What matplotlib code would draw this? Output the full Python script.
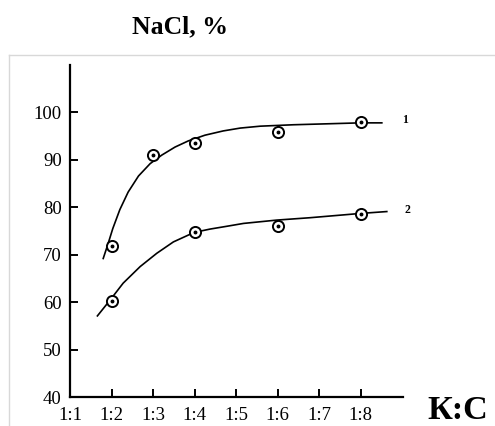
import matplotlib.pyplot as plt
from matplotlib.lines import Line2D

plt.rcParams['font.family'] = ['Liberation Serif', 'DejaVu Serif']

# ratio K:C  (1:n -> n)
ratio = [1, 2, 3, 4, 5, 6, 7, 8]
ratio_labels = ['1:1', '1:2', '1:3', '1:4', '1:5', '1:6', '1:7', '1:8']

# measured points
x1 = [2, 3, 4, 6, 8]
y1 = [71.9, 91.0, 93.5, 95.9, 98.0]
x2 = [2, 4, 6, 8]
y2 = [60.3, 74.7, 76.1, 78.6]

# hand-drawn trend curves
c1x = [1.80, 1.92, 2.03, 2.20, 2.40, 2.65, 2.93, 3.21, 3.53, 3.85, 4.25,
       4.69, 5.10, 5.58, 6.38, 7.19, 7.99, 8.51]
c1y = [69.2, 72.4, 75.5, 79.5, 83.2, 86.6, 89.2, 91.0, 92.7, 94.0, 95.2,
       96.1, 96.7, 97.1, 97.4, 97.6, 97.8, 97.8]
c2x = [1.66, 1.98, 2.28, 2.69, 3.09, 3.49, 3.99, 4.37, 4.78, 5.18, 5.98,
       6.78, 7.59, 7.99, 8.63]
c2y = [57.1, 60.6, 64.0, 67.5, 70.3, 72.7, 74.7, 75.4, 76.0, 76.6, 77.3,
       77.8, 78.4, 78.7, 79.1]

fig = plt.figure(figsize=(4.95, 4.26), dpi=100)
ax = fig.add_axes([70 / 495, 29 / 426, 333 / 495, 332 / 426])

ax.plot(c1x, c1y, color='black', lw=1.2)
ax.plot(c2x, c2y, color='black', lw=1.2)
for xs, ys in [(x1, y1), (x2, y2)]:
    ax.plot(xs, ys, 'o', ms=8, mfc='white', mec='black', mew=1.4)
    ax.plot(xs, ys, 'o', ms=1.8, color='black')

ax.set_xlim(1, 9.02)
ax.set_ylim(40, 110)
ax.set_xticks(ratio)
ax.set_xticklabels(ratio_labels)
ax.set_yticks([40, 50, 60, 70, 80, 90, 100])
ax.spines['top'].set_visible(False)
ax.spines['right'].set_visible(False)
ax.spines['left'].set_linewidth(1.6)
ax.spines['bottom'].set_linewidth(1.6)
ax.tick_params(direction='in', length=6, width=1.4, labelsize=13.5)
ax.tick_params(axis='y', pad=6)
ax.tick_params(axis='x', pad=7)

ax.text(9.07, 98.3, '1', fontsize=8.5, fontweight='bold', ha='center', va='center')
ax.text(9.13, 79.4, '2', fontsize=8.5, fontweight='bold', ha='center', va='center')

fig.text(179.5 / 495, 1 - 33 / 426, 'NaCl, %', fontsize=18.5, fontweight='bold',
         ha='center', va='baseline')
fig.text(427 / 495, 1 - 419 / 426, 'К:С', fontsize=24.7, fontweight='bold',
         ha='left', va='baseline')

# light frame of the original picture
fig.add_artist(Line2D([9 / 495, 1], [1 - 55 / 426] * 2, color='#d8d8d8', lw=1,
                      transform=fig.transFigure))
fig.add_artist(Line2D([9 / 495] * 2, [0, 1 - 55 / 426], color='#d8d8d8', lw=1,
                      transform=fig.transFigure))

fig.savefig('out.png', dpi=100)
